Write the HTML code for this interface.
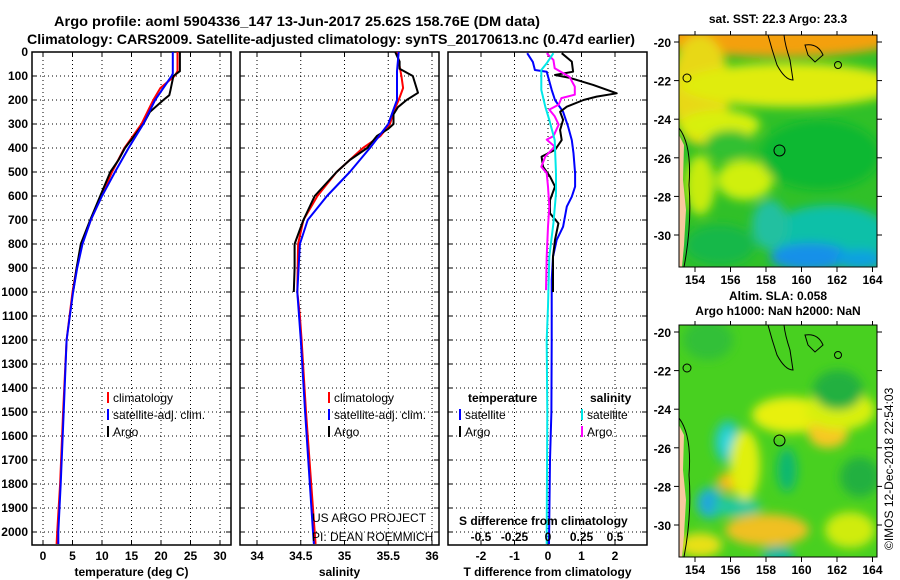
<!DOCTYPE html>
<html><head><meta charset="utf-8"><style>
body{margin:0;background:#fff;}
svg{display:block;font-family:"Liberation Sans",sans-serif;}
.tk{font-size:12px;font-weight:bold;fill:#000;}
.tt{font-size:14px;font-weight:bold;fill:#000;}
.lg{font-size:12px;fill:#000;}
</style></head><body>
<svg id="chart" width="900" height="580" viewBox="0 0 900 580" xmlns="http://www.w3.org/2000/svg">
<defs>
<filter id="blur1" x="-50%" y="-50%" width="200%" height="200%"><feGaussianBlur stdDeviation="5"/></filter>
<clipPath id="clipTop"><rect x="679" y="35" width="198" height="232"/></clipPath>
<clipPath id="clipBot"><rect x="679" y="325" width="198" height="232"/></clipPath>
</defs>
<text class="tt" x="54" y="26" textLength="486" lengthAdjust="spacingAndGlyphs">Argo profile: aoml 5904336_147 13-Jun-2017 25.62S 158.76E (DM data)</text>
<text class="tt" x="27" y="44" textLength="608" lengthAdjust="spacingAndGlyphs">Climatology: CARS2009. Satellite-adjusted climatology: synTS_20170613.nc (0.47d earlier)</text>
<g id="panels"></g>
<g id="maps"></g>
<text class="lg" transform="translate(893,550) rotate(-90)">©IMOS 12-Dec-2018 22:54:03</text>
</svg>
<script>
// ---- data ----
const depthTicks=[0,100,200,300,400,500,600,700,800,900,1000,1100,1200,1300,1400,1500,1600,1700,1800,1900,2000];
const tempTicks=[0,5,10,15,20,25,30];
const salTicks=[34,34.5,35,35.5,36];
const tdiffTicks=[-2,-1,0,1,2];
const sdiffTicks=[-0.5,-0.25,0,0.25,0.5];
const sdiffLabels=["-0.5","-0.25","0","0.25","0.5"];

const tArgoDepth=[0,80,100,160,180,200,250,300,400,450,500,600,700,800,900,1000];
const tArgo=[23.2,23.2,22.1,21.6,21.4,20.4,18.1,17.0,13.9,12.8,11.4,9.7,8.0,6.4,5.7,5.1];
const tClimDepth=[0,80,100,150,200,300,400,500,600,700,800,900,1000,1200,1500,1800,2000,2050];
const tClim=[22.8,22.8,22.3,19.9,18.7,16.7,13.8,11.7,9.9,8.1,6.6,5.7,5.0,4.0,3.4,2.9,2.4,2.3];
const tSatDepth=[0,90,100,200,300,400,500,600,700,800,900,1000,1200,1500,1800,2000,2050];
const tSat=[22.0,22.0,21.8,19.0,17.0,14.5,12.2,10.0,8.1,6.7,5.8,5.1,4.0,3.5,3.0,2.6,2.6];

const sArgoDepth=[0,40,70,100,170,200,230,260,300,320,350,400,450,500,600,700,800,900,1000];
const sArgo=[35.58,35.63,35.63,35.78,35.84,35.71,35.61,35.56,35.56,35.50,35.37,35.26,35.06,34.91,34.66,34.53,34.43,34.43,34.42];
const sClimDepth=[0,100,150,200,250,300,350,400,500,600,700,800,1000,1100,1200,1500,2000,2050];
const sClim=[35.60,35.65,35.67,35.62,35.56,35.52,35.41,35.21,34.91,34.69,34.53,34.47,34.46,34.49,34.51,34.56,34.66,34.67];
const sSatDepth=[0,80,150,200,250,300,400,500,600,700,800,1000,1200,1500,2000,2050];
const sSat=[35.62,35.60,35.60,35.60,35.55,35.50,35.29,35.06,34.80,34.58,34.49,34.46,34.50,34.55,34.64,34.65];

const dtSatDepth=[5,42,75,82,158,200,249,311,367,422,505,561,603,644,728,783,853,950,1200,1500,1700,2050];
const dtSat=[-0.62,-0.45,-0.39,-0.04,0.11,0.21,0.45,0.60,0.71,0.76,0.81,0.81,0.71,0.56,0.45,0.26,0.15,0.11,0.11,0.10,0.06,0.03];
const dtArgoDepth=[5,40,82,96,108,137,172,186,200,228,249,283,325,367,408,436,478,519,561,617,672,714,783,853,1000];
const dtArgo=[0.41,0.71,0.75,0.21,0.66,1.35,2.05,1.45,1.06,0.56,0.36,0.45,0.36,0.41,0.21,-0.19,-0.15,0.06,0.21,0.06,0.06,0.31,0.21,0.15,0.15];
const dsArgoDepth=[5,33,68,103,144,178,192,219,240,268,303,351,365,394,436,478,505,561,644,728,853,992];
const dsArgo=[-0.01,0.04,0.05,0.16,0.20,0.20,0.10,0.08,0.01,0.05,0.08,0.04,-0.01,0.05,-0.02,-0.05,-0.01,0.0,0.01,0.0,-0.01,-0.015];
const dsSatDepth=[5,47,75,158,228,283,367,505,589,714,853,1061,1200,1500,2000,2050];
const dsSat=[0.04,-0.01,-0.05,-0.05,-0.02,0.01,0.05,0.06,0.06,0.04,0.01,0.0,-0.01,-0.005,-0.01,-0.01];

const mapLatTicks=[-20,-22,-24,-26,-28,-30];
const mapLonTicks=[154,156,158,160,162,164];
const argoLon=158.76, argoLat=-25.62;

// ---- drawing ----
const NS="http://www.w3.org/2000/svg";
function mk(tag,attrs,parent){const e=document.createElementNS(NS,tag);for(const k in attrs)e.setAttribute(k,attrs[k]);parent.appendChild(e);return e;}
const P=document.getElementById('panels');
const M=document.getElementById('maps');
const yD=d=>52+d*0.24;
const TOP=52,BOT=545;
const panels=[
 {x0:32,x1:231,fx:v=>43+v*5.9,ticks:tempTicks,labels:tempTicks.map(String),title:"temperature (deg C)",name:"temperature"},
 {x0:240,x1:439,fx:v=>257+(v-34)*87.5,ticks:salTicks,labels:salTicks.map(String),title:"salinity",name:"salinity"},
 {x0:448,x1:647,fx:v=>548+v*33.5,ticks:tdiffTicks,labels:tdiffTicks.map(String),title:"T difference from climatology",name:"difference"}
];
const fS=v=>548+v*134;
panels.forEach(p=>{
  const g=mk('g',{},P);
  
  
  p.ticks.forEach(t=>{const x=p.fx(t);
    const l=mk('line',{x1:x,x2:x,y1:TOP,y2:BOT,stroke:'#000','stroke-width':1,'stroke-dasharray':'1,3'},g);
    
    mk('line',{x1:x,x2:x,y1:TOP,y2:TOP+5,stroke:'#000'},g);mk('line',{x1:x,x2:x,y1:BOT,y2:BOT-5,stroke:'#000'},g);});
  depthTicks.forEach(d=>{const y=yD(d);
    const l=mk('line',{x1:p.x0,x2:p.x1,y1:y,y2:y,stroke:'#000','stroke-width':1,'stroke-dasharray':'1,3'},g);
    
    mk('line',{x1:p.x0,x2:p.x0+5,y1:y,y2:y,stroke:'#000'},g);mk('line',{x1:p.x1,x2:p.x1-5,y1:y,y2:y,stroke:'#000'},g);});
  const fr=mk('rect',{x:p.x0,y:TOP,width:p.x1-p.x0,height:BOT-TOP,fill:'none',stroke:'#000','stroke-width':1.5},g);
  
  p.ticks.forEach((t,i)=>{const tx=mk('text',{x:p.fx(t),y:560,'text-anchor':'middle',class:'tk'},g);tx.textContent=p.labels[i];
    });
  const at=mk('text',{x:(p.x0+p.x1)/2,y:576,'text-anchor':'middle',class:'tk'},g);at.textContent=p.title;
  
});
depthTicks.forEach(d=>{const t=mk('text',{x:28,y:yD(d)+4,'text-anchor':'end',class:'tk'},P);t.textContent=d;
  });
function line(depths,vals,fx,color,name,w){
  const pts=depths.map((d,i)=>fx(vals[i]).toFixed(1)+','+yD(d).toFixed(1)).join(' ');
  const e=mk('polyline',{points:pts,fill:'none',stroke:color,'stroke-width':w||2,'stroke-linejoin':'round'},P);
  
  
}
const fT=panels[0].fx,fSal=panels[1].fx,fDT=panels[2].fx;
line(tClimDepth,tClim,fT,'#ff0000','temperature-climatology-line');
line(tArgoDepth,tArgo,fT,'#000','temperature-argo-line');
line(tSatDepth,tSat,fT,'#0000ff','temperature-satellite-line');
line(sClimDepth,sClim,fSal,'#ff0000','salinity-climatology-line');
line(sArgoDepth,sArgo,fSal,'#000','salinity-argo-line');
line(sSatDepth,sSat,fSal,'#0000ff','salinity-satellite-line');
line(dtSatDepth,dtSat,fDT,'#0000ff','tdiff-satellite-line');
line(dtArgoDepth,dtArgo,fDT,'#000','tdiff-argo-line');
line(dsArgoDepth,dsArgo,fS,'#ff00ff','sdiff-argo-line');
line(dsSatDepth,dsSat,fS,'#00e8e8','sdiff-satellite-line');
function leg(x,y,color,txt,name,cls){
  const g=mk('g',{},P);
  
  
  if(color)mk('line',{x1:x,x2:x,y1:y-10,y2:y+1,stroke:color,'stroke-width':2},g);
  const t=mk('text',{x:x+5,y:y,class:cls||'lg'},g);t.textContent=txt;
}
leg(108,402,'#ff0000','climatology','legend-entry-climatology');
leg(108,419,'#0000ff','satellite-adj. clim.','legend-entry-satellite');
leg(108,436,'#000','Argo','legend-entry-argo');
leg(329,402,'#ff0000','climatology','legend-entry-climatology');
leg(329,419,'#0000ff','satellite-adj. clim.','legend-entry-satellite');
leg(329,436,'#000','Argo','legend-entry-argo');
leg(463,402,null,'temperature','legend-header-temperature','tk');
leg(585,402,null,'salinity','legend-header-salinity','tk');
leg(460,419,'#0000ff','satellite','legend-entry-t-satellite');
leg(460,436,'#000','Argo','legend-entry-t-argo');
leg(582,419,'#00e8e8','satellite','legend-entry-s-satellite');
leg(582,436,'#ff00ff','Argo','legend-entry-s-argo');
[["US ARGO PROJECT",522],["PI: DEAN ROEMMICH",541]].forEach(a=>{const t=mk('text',{x:312,y:a[1],style:'font-size:12px;font-weight:normal;'},P);t.textContent=a[0];
  });
{const t=mk('text',{x:459,y:525,class:'tk'},P);t.textContent='S difference from climatology';}
sdiffTicks.forEach((v,i)=>{const t=mk('text',{x:fS(v),y:541,'text-anchor':'middle',class:'tk'},P);t.textContent=sdiffLabels[i];
  });

// ---- maps ----
const mx=lon=>695+(lon-154)*17.75;
function buildMap(y0,clip,blobs,base,title1,title2,name){
  const g=mk('g',{},M);
  
  
  const my=lat=>y0+7+(-20-lat)*19.3;
  const c=mk('g',{'clip-path':'url(#'+clip+')'},g);
  mk('rect',{x:679,y:y0,width:198,height:232,fill:base},c);
  const bg=mk('g',{filter:'url(#blur1)'},c);
  blobs.forEach(b=>mk('ellipse',{cx:b[0],cy:y0+b[1],rx:b[2],ry:b[3],fill:b[4]},bg));
  mk('path',{d:`M679 ${y0+100} L684 ${y0+110} L683 ${y0+145} L686 ${y0+175} L684 ${y0+210} L682 ${y0+232} L679 ${y0+232} Z`,fill:'#f8c8a0'},c);
  mk('path',{d:`M679 ${y0+93} Q692 ${y0+110} 689 ${y0+150} Q692 ${y0+190} 684 ${y0+232}`,fill:'none',stroke:'#000','stroke-width':1},c);
  mk('path',{d:`M768 ${y0} Q772 ${y0+15} 777 ${y0+30} Q785 ${y0+45} 793 ${y0+45} L790 ${y0+25} Q785 ${y0+10} 784 ${y0}`,fill:'none',stroke:'#000','stroke-width':1},c);
  mk('path',{d:`M805 ${y0+10} Q818 ${y0+8} 823 ${y0+20} L815 ${y0+27} L808 ${y0+20} Z`,fill:'none',stroke:'#000','stroke-width':1},c);
  mk('circle',{cx:838,cy:y0+30,r:3.5,fill:'none',stroke:'#000'},c);
  mk('circle',{cx:687,cy:y0+43,r:4,fill:'none',stroke:'#000'},c);
  const ac=mk('circle',{cx:mx(argoLon),cy:my(argoLat),r:5.5,fill:'none',stroke:'#000','stroke-width':1},g);
  
  mk('rect',{x:679,y:y0,width:198,height:232,fill:'none',stroke:'#000','stroke-width':1},g);
  mapLatTicks.forEach(l=>{const y=my(l);mk('line',{x1:674,x2:679,y1:y,y2:y,stroke:'#000'},g);mk('line',{x1:877,x2:882,y1:y,y2:y,stroke:'#000'},g);
    const t=mk('text',{x:671,y:y+5,'text-anchor':'end',class:'tk'},g);t.textContent=l;});
  mapLonTicks.forEach(l=>{const x=mx(l);mk('line',{x1:x,x2:x,y1:y0-4,y2:y0,stroke:'#000'},g);mk('line',{x1:x,x2:x,y1:y0+232,y2:y0+237,stroke:'#000'},g);
    const t=mk('text',{x:x,y:y0+249,'text-anchor':'middle',class:'tk'},g);t.textContent=l;});
  const t1=mk('text',{x:778,y:title2?y0-25:y0-12,'text-anchor':'middle',class:'tk'},g);t1.textContent=title1;
  if(title2){const t2=mk('text',{x:778,y:y0-10,'text-anchor':'middle',class:'tk'},g);t2.textContent=title2;}
}
buildMap(35,'clipTop',[
 [780,0,130,22,'#f4a010'],[700,55,30,55,'#e8d818'],[790,50,110,22,'#e0ec10'],
 [720,90,40,15,'#d8f010'],[745,145,28,20,'#d0f010'],[700,150,15,30,'#c8ec10'],
 [730,110,25,15,'#30c030'],[820,120,60,35,'#10b830'],
 [830,200,60,30,'#10c0a8'],[810,222,40,14,'#1890e8'],[860,225,25,10,'#10a0e0'],
 [770,190,18,25,'#20c0a0'],[720,210,35,20,'#18b848']
],'#30c028','sat. SST: 22.3 Argo: 23.3',null,'sst-map');
buildMap(325,'clipBot',[
 [708,15,25,20,'#30c038'],[728,117,14,22,'#20c8b0'],[728,117,7,12,'#30d8e0'],
 [710,178,14,16,'#20b8c0'],[735,182,26,9,'#20c8a0'],[708,178,6,9,'#20a0e0'],
 [733,157,16,10,'#f8b818'],[745,140,15,35,'#e0f010'],
 [790,90,38,18,'#e8f010'],[828,108,20,15,'#f8c820'],[840,85,35,20,'#d8f010'],
 [787,145,10,22,'#10b870'],[838,65,25,20,'#20b040'],[860,152,20,20,'#20b040'],
 [767,205,42,16,'#f0c020'],[778,230,16,9,'#10b8a0'],[700,220,22,12,'#e8e018'],
 [850,205,25,18,'#d0ec10']
],'#48d020','Altim. SLA: 0.058','Argo h1000: NaN h2000: NaN','sla-map');
</script>
</body></html>
